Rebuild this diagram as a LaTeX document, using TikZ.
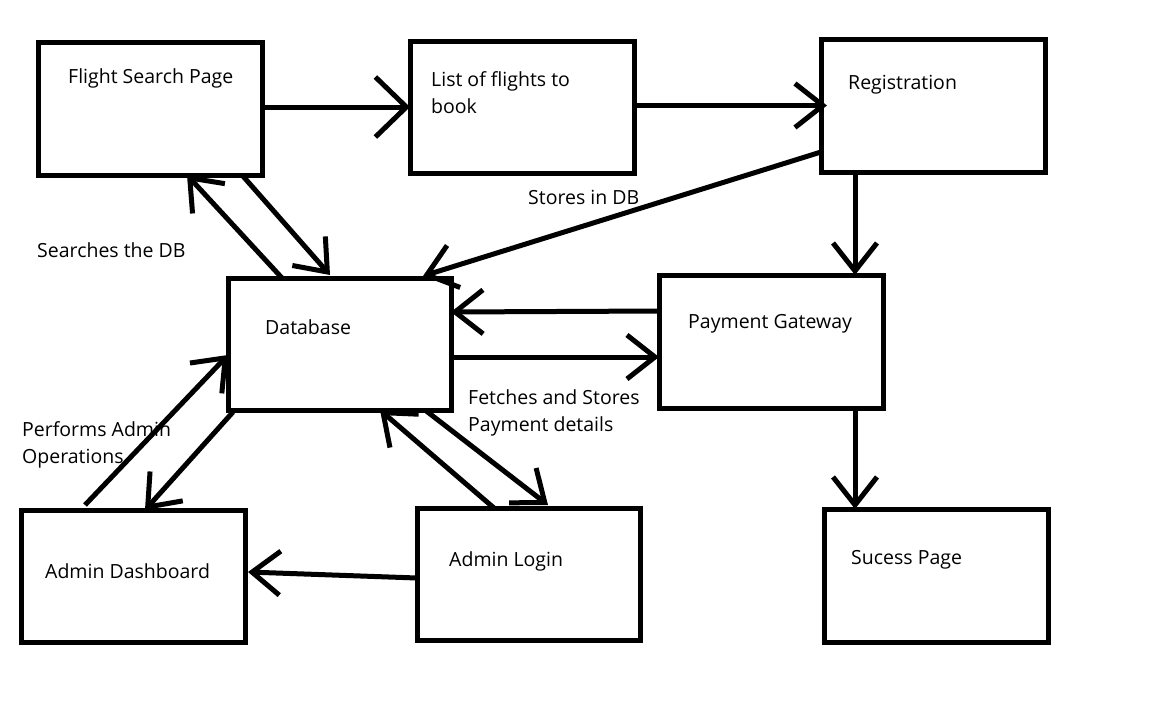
\documentclass[tikz,border=0pt]{standalone}
\usepackage{fontspec}
\setmainfont{Open Sans}
\usetikzlibrary{arrows.meta,calc}
\begin{document}
\begin{tikzpicture}[x=1pt,y=-1pt,
  box/.style={draw, line width=5pt, rectangle, outer sep=0pt, inner sep=0pt},
  lbl/.style={anchor=base west, inner sep=0pt, font=\fontsize{19.5pt}{27pt}\selectfont},
  con/.style={line width=5pt, -{Straight Barb[length=28pt,width=44pt]}},
  bigcon/.style={line width=5pt, -{Straight Barb[length=31pt,width=60pt]}},
]
\useasboundingbox (0,0) rectangle (1151,705);
\fill[white] (0,0) rectangle (1151,705);
% boxes
\node[box, minimum width=224pt, minimum height=133pt] (fs)  at (150,108.5) {};
\node[box, minimum width=224pt, minimum height=132pt] (lf)  at (522,107) {};
\node[box, minimum width=224pt, minimum height=133pt] (reg) at (933,105.5) {};
\node[box, minimum width=223pt, minimum height=132pt] (db)  at (339.5,344) {};
\node[box, minimum width=224pt, minimum height=133pt] (pg)  at (771,341.5) {};
\node[box, minimum width=224pt, minimum height=132pt] (ad)  at (133,576) {};
\node[box, minimum width=223pt, minimum height=132pt] (al)  at (528.5,574) {};
\node[box, minimum width=224pt, minimum height=133pt] (sp)  at (936,575.5) {};
% texts
\node[lbl] (t1)  at (68,83)   {Flight Search Page};
\node[lbl] (t2a) at (431,86)  {List of flights to};
\node[lbl] (t2b) at (431,113) {book};
\node[lbl] (t3)  at (848,89)  {Registration};
\node[lbl] (t4)  at (528,204) {Stores in DB};
\node[lbl] (t5)  at (37,257)  {Searches the DB};
\node[lbl] (t6)  at (265,334) {Database};
\node[lbl] (t7)  at (688,328) {Payment Gateway};
\node[lbl] (t8a) at (468,404) {Fetches and Stores};
\node[lbl] (t8b) at (468,431) {Payment details};
\node[lbl] (t9a) at (22,436)  {Performs Admin};
\node[lbl] (t9b) at (22,463)  {Operations};
\node[lbl] (t10) at (45,578)  {Admin Dashboard};
\node[lbl] (t11) at (449,566) {Admin Login};
\node[lbl] (t12) at (851,564) {Sucess Page};
% connectors
\draw[bigcon] (fs.east |- lf.west) -- (lf.west);
\draw[con] (lf.east |- reg.west) -- ($(reg.west)+(6,0)$);
\draw[con] ($(db.north west)+(54,0)$) -- ($(fs.south west)+(149,0)$);
\draw[con] ($(fs.south west)+(204,0)$) -- ($(db.north west)+(102,-3)$);
\draw[con] ($(reg.south west)+(0,-20)$) -- ($(db.north west)+(195,-2)$);
\draw[con] ($(reg.south west)+(34,0)$) -- ($(pg.north west)+(196,0)$);
\draw[con] ($(pg.north west)+(0,36)$) -- ($(db.north east)+(0,34)$);
\draw[con] ($(db.south east)+(0,-53)$) -- ($(pg.south west)+(0,-51)$);
\draw[con] ($(ad.north west)+(64,-5)$) -- ($(db.south west)+(0,-55)$);
\draw[con] ($(db.south west)+(5,2)$) -- ($(ad.north west)+(124,0)$);
\draw[con] ($(al.north west)+(77,0)$) -- ($(db.south west)+(152,0)$);
\draw[con] ($(db.south west)+(197,0)$) -- ($(al.north west)+(131,-3)$);
\draw[con] ($(al.west)+(0,4)$) -- ($(ad.east)+(3,-4)$);
\draw[con] ($(pg.south west)+(196,0)$) -- ($(sp.north west)+(31,0)$);
\end{tikzpicture}
\end{document}
